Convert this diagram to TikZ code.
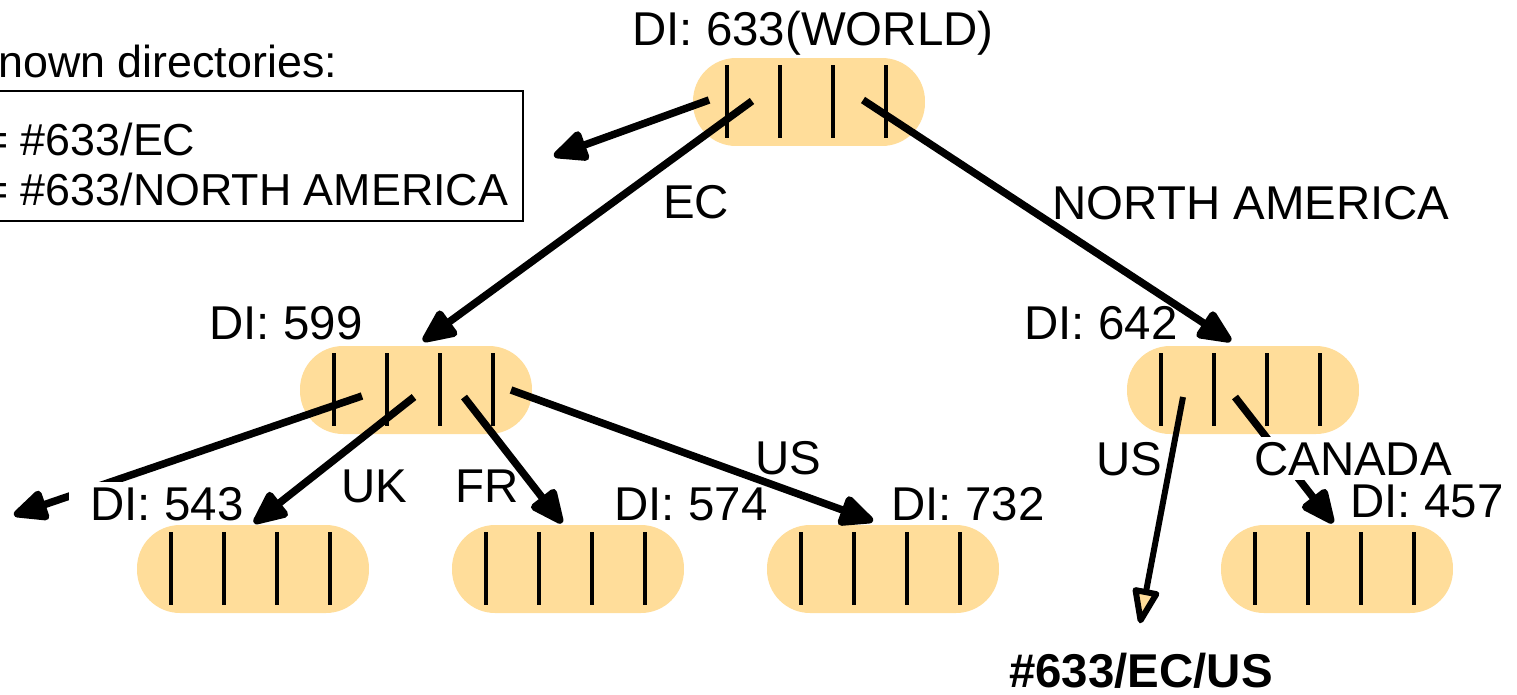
\documentclass[tikz,border=0pt]{standalone}
\usepackage{fontspec}
\setmainfont{Liberation Sans}
\usetikzlibrary{arrows.meta}

\definecolor{pillfill}{RGB}{255,221,154}

\tikzset{
  pill/.style={fill=pillfill, rounded corners=0.86cm, minimum width=4.64cm,
    minimum height=1.76cm, inner sep=0pt},
  bar/.style={line width=0.09cm},
  link/.style={line width=0.15cm, -{Triangle[round,length=0.78cm,width=0.66cm]}},
  openlink/.style={line width=0.12cm,
    -{Triangle[open,round,length=0.82cm,width=0.56cm,fill=pillfill]}},
  lbl/.style={anchor=base, inner sep=0.1cm},
  blank/.style={lbl, fill=white},
  plain/.style={anchor=base west, inner sep=0pt, font=\fontsize{25.5}{30}\selectfont},
}

\begin{document}
\begin{tikzpicture}[x=0.02cm, y=-0.02cm, font=\fontsize{27}{32}\selectfont]
      \useasboundingbox (0,0) rectangle (1517,694);

      % directories
      \node[pill] (world) at (809,102) {};
      \node[pill] (d599) at (416,390) {};
      \node[pill] (d642) at (1243,390) {};
      \node[pill] (d543) at (253,569) {};
      \node[pill] (d574) at (568,569) {};
      \node[pill] (d732) at (883,569) {};
      \node[pill] (d457) at (1337,569) {};

      % entries
      \foreach \n in {world,d599,d642,d543,d574,d732,d457}
        \foreach \dx in {-82,-29,24,77}
        { \draw[bar] (\n.center) ++(\dx,-37) -- ++(0,73); }

      % known directories
      \node[draw, line width=0.04cm, minimum width=10.66cm, minimum height=2.6cm]
        (known) at (256.5,156) {};
      \node[plain] (ktitle) at (-2,77) {nown directories:};
      \node[plain] (kec) at (-18,155) {= \#633/EC};
      \node[plain] (kna) at (-18,205) {= \#633/NORTH AMERICA};

      % links under labels
      \coordinate (lost) at (14,515);
      \draw[link] (d599.center) ++(-54,6) -- (lost);
      \draw[link] (d642.center) ++(-8,7) -- ([shift={(-4,-46)}]d457.center);

      % labels
      \node[lbl] (l633) at (813,45) {DI: 633(WORLD)};
      \node[lbl] (l599) at (286,339) {DI: 599};
      \node[lbl] (l642) at (1101,339) {DI: 642};
      \node[blank, inner xsep=0.44cm] (l543) at (167,520) {DI: 543};
      \node[lbl] (l574) at (691,520) {DI: 574};
      \node[lbl] (l732) at (968,520) {DI: 732};
      \node[lbl] (l457) at (1427,517) {DI: 457};
      \node[lbl] (lec) at (696,218) {EC};
      \node[lbl] (lna) at (1251,219) {NORTH AMERICA};
      \node[lbl] (luk) at (374,502) {UK};
      \node[lbl] (lfr) at (487,502) {FR};
      \node[lbl] (lus) at (788,474) {US};
      \node[lbl] (lus2) at (1129,475) {US};
      \node[blank] (lca) at (1353,475) {CANADA};
      \node[lbl, inner sep=0pt, font=\fontsize{27}{32}\selectfont\bfseries]
        (res) at (1141,687) {\#633/EC/US};

      % links
      \draw[link] (world.center) ++(-100,-2) -- ([shift={(30,0)}]known.east);
      \draw[link] (world.center) ++(-57,-1) -- ([shift={(7,-49)}]d599.center);
      \draw[link] (world.center) ++(54,-2) -- ([shift={(-12,-49)}]d642.center);
      \draw[link] (d599.center) ++(-2,7) -- ([shift={(1,-46)}]d543.center);
      \draw[link] (d599.center) ++(48,7) -- ([shift={(-6,-46)}]d574.center);
      \draw[link] (d599.center) ++(95,0) -- ([shift={(-10,-48)}]d732.center);
      \draw[openlink] (d642.center) ++(-60,7) -- ([shift={(-1,-29)}]res.north);
\end{tikzpicture}
\end{document}
